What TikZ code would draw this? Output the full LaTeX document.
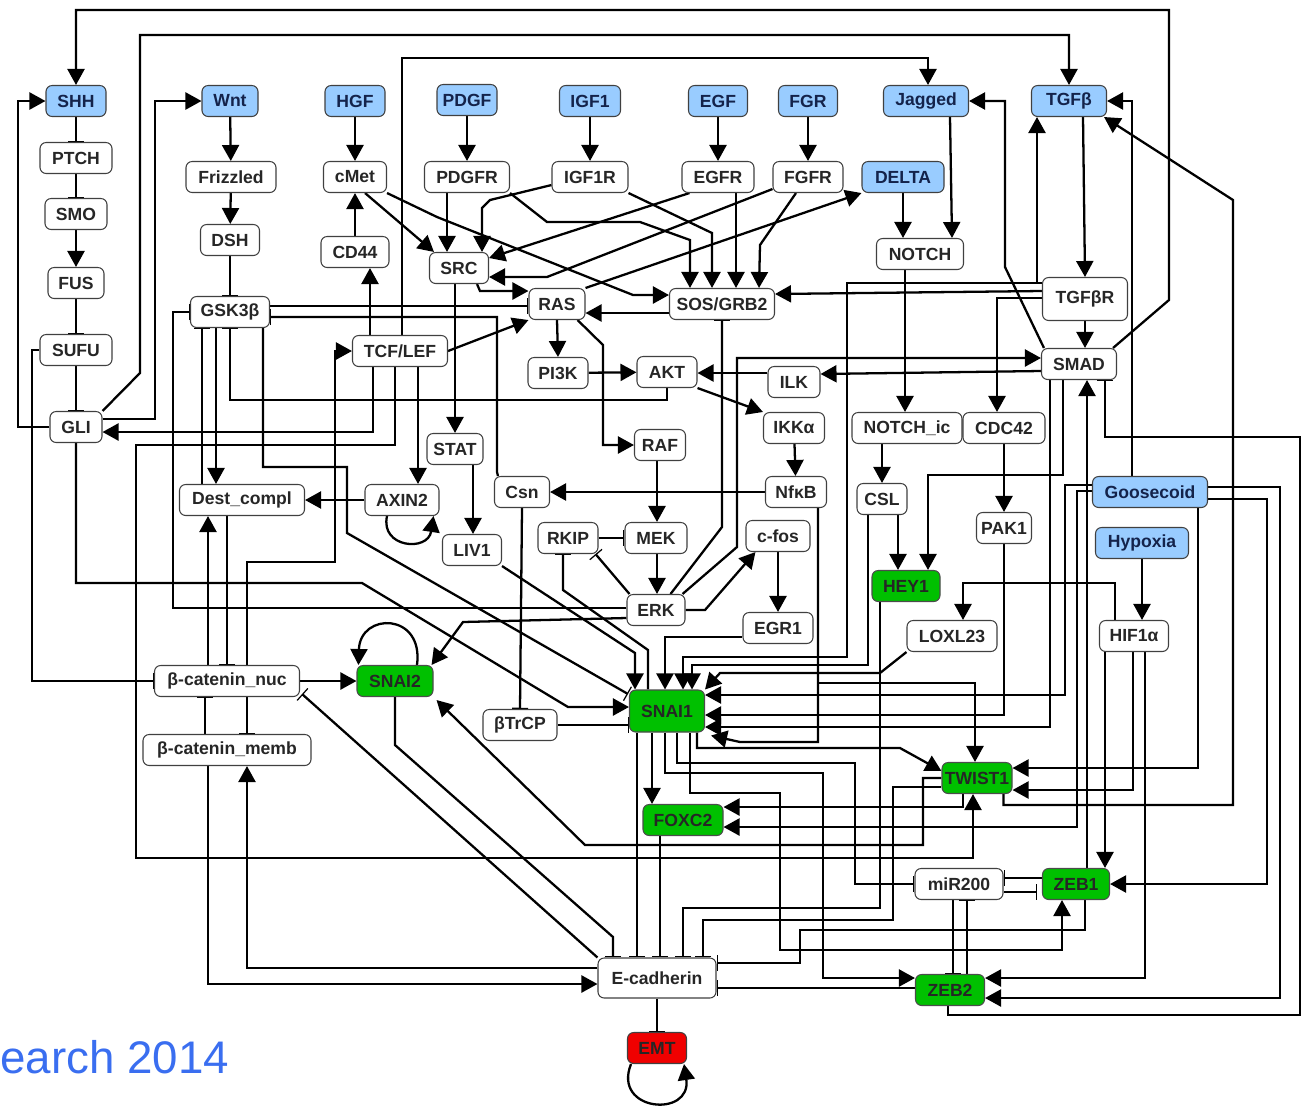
\documentclass[tikz,border=0pt]{standalone}
\usepackage{fontspec}
\setmainfont{Liberation Sans}
\usetikzlibrary{arrows.meta,calc}
\definecolor{nblue}{RGB}{153,204,255}
\definecolor{ngreen}{RGB}{0,192,0}
\definecolor{nred}{RGB}{240,0,0}
\definecolor{ttblue}{RGB}{20,35,75}
\definecolor{capblue}{RGB}{58,110,240}
\pgfdeclarelayer{bg}
\pgfsetlayers{bg,main}
\begin{document}
\begin{tikzpicture}[x=0.02cm,y=-0.02cm,
  box/.style={draw=black!75, line width=0.6pt, rounded corners=3.5pt, fill=white, inner sep=0pt,
    minimum height=0.62cm, font=\fontsize{10}{12}\selectfont\bfseries, text=black!85},
  bl/.style={box, fill=nblue, text=ttblue},
  gr/.style={box, fill=ngreen, text=black!85, draw=black!70},
  rd/.style={box, fill=nred, text=black!85},
  wd/.style={minimum width=#1*0.02cm},
  hh/.style={minimum height=#1*0.02cm},
  act/.style={line width=1.3pt, -{Triangle[length=0.32cm,width=0.34cm]}},
  inh/.style={line width=1.3pt, -{Bar[width=0.32cm,line width=0.7pt]}}]
\useasboundingbox (0,0) rectangle (1308,1113);
% ---------------- nodes
\node[bl,wd=60] (SHH) at (76,101) {SHH};
\node[box,wd=72] (PTCH) at (76,158) {PTCH};
\node[box,wd=62] (SMO) at (76,214) {SMO};
\node[box,wd=56] (FUS) at (76,283) {FUS};
\node[box,wd=72] (SUFU) at (76,350) {SUFU};
\node[box,wd=52] (GLI) at (76,427) {GLI};
\node[bl,wd=56] (Wnt) at (230,101) {Wnt};
\node[box,wd=90] (Frizzled) at (231,177) {Frizzled};
\node[box,wd=59] (DSH) at (230,240) {DSH};
\node[box,wd=79] (GSK) at (230,312) {GSK3β};
\node[bl,wd=60] (HGF) at (355,101) {HGF};
\node[box,wd=63] (cMet) at (355,177) {cMet};
\node[box,wd=68] (CD44) at (355,252) {CD44};
\node[bl,wd=60] (PDGF) at (467,100) {PDGF};
\node[box,wd=85] (PDGFR) at (467,177) {PDGFR};
\node[bl,wd=61] (IGF1) at (590,101) {IGF1};
\node[box,wd=76] (IGF1R) at (590,177) {IGF1R};
\node[bl,wd=59] (EGF) at (718,101) {EGF};
\node[box,wd=72] (EGFR) at (718,177) {EGFR};
\node[bl,wd=59] (FGR) at (808,101) {FGR};
\node[box,wd=70] (FGFR) at (808,177) {FGFR};
\node[bl,wd=85] (Jagged) at (926,101) {Jagged};
\node[bl,wd=82] (DELTA) at (903,177) {DELTA};
\node[box,wd=87] (NOTCH) at (920,254) {NOTCH};
\node[bl,wd=75] (TGFb) at (1069,101) {TGFβ};
\node[box,wd=85,hh=43] (TGFbR) at (1085,299) {TGFβR};
\node[box,wd=75] (SMAD) at (1079,364) {SMAD};
\node[box,wd=59] (SRC) at (459,268) {SRC};
\node[box,wd=56] (RAS) at (557,304) {RAS};
\node[box,wd=105] (SOS) at (722,304) {SOS/GRB2};
\node[box,wd=95] (TCF) at (400,351) {TCF/LEF};
\node[box,wd=60] (PI3K) at (558,373) {PI3K};
\node[box,wd=60] (AKT) at (667,372) {AKT};
\node[box,wd=52] (ILK) at (794,382) {ILK};
\node[box,wd=61] (IKKa) at (794,428) {IKKα};
\node[box,wd=110] (NOTCHic) at (907,428) {NOTCH\_ic};
\node[box,wd=82] (CDC42) at (1004,428) {CDC42};
\node[box,wd=56] (STAT) at (455,449) {STAT};
\node[box,wd=51] (RAF) at (660,445) {RAF};
\node[box,wd=55] (Csn) at (522,492) {Csn};
\node[box,wd=61] (NFkB) at (796,492) {NfκB};
\node[box,wd=50] (CSL) at (882,499) {CSL};
\node[bl,wd=115] (Goosecoid) at (1150,492) {Goosecoid};
\node[box,wd=125] (Dest) at (242,500) {Dest\_compl};
\node[box,wd=74] (AXIN2) at (402,500) {AXIN2};
\node[box,wd=59] (LIV1) at (472,550) {LIV1};
\node[box,wd=60] (RKIP) at (568,538) {RKIP};
\node[box,wd=62] (MEK) at (656,538) {MEK};
\node[box,wd=64] (cfos) at (778,536) {c-fos};
\node[box,wd=55] (PAK1) at (1004,528) {PAK1};
\node[bl,wd=93] (Hypoxia) at (1142,543) {Hypoxia};
\node[gr,wd=68] (HEY1) at (906,586) {HEY1};
\node[box,wd=58] (ERK) at (656,610) {ERK};
\node[box,wd=70] (EGR1) at (778,628) {EGR1};
\node[box,wd=90] (LOXL) at (952,636) {LOXL23};
\node[box,wd=69] (HIF) at (1134,636) {HIF1α};
\node[gr,wd=76] (SNAI2) at (395,681) {SNAI2};
\node[box,wd=145] (bcatnuc) at (227,681) {β-catenin\_nuc};
\node[gr,wd=75,hh=42] (SNAI1) at (667,711) {SNAI1};
\node[box,wd=74] (bTrCP) at (520,725) {βTrCP};
\node[box,wd=168] (bcatmemb) at (227,750) {β-catenin\_memb};
\node[gr,wd=70] (TWIST1) at (977,778) {TWIST1};
\node[gr,wd=80] (FOXC2) at (683,820) {FOXC2};
\node[box,wd=88] (miR200) at (959,884) {miR200};
\node[gr,wd=67] (ZEB1) at (1076,884) {ZEB1};
\node[box,wd=118,hh=40] (Ecad) at (657,978) {E-cadherin};
\node[gr,wd=69] (ZEB2) at (950,990) {ZEB2};
\node[rd,wd=59] (EMT) at (657,1048) {EMT};
\node[anchor=base west, inner sep=0pt, font=\fontsize{26}{30}\selectfont, text=capblue] (cap) at (0,1073) {earch 2014};
% ---------------- edges
\begin{pgfonlayer}{bg}
% long loops at the top
\draw[act] ($(SMAD.north east)+(-4,0)$) -- (1169,300) -- (1169,10) -| (SHH.north);
\draw[act] (GLI.north east) -- (140,373) -- (140,35) -| (TGFb.north);
\draw[act] (TCF.north -| 402,0) |- (928,58) -- (Jagged.north -| 928,0);
% hedgehog
\draw[inh] (SHH) -- (PTCH);
\draw[inh] (PTCH) -- (SMO);
\draw[act] (SMO) -- (FUS);
\draw[inh] (FUS) -- (SUFU);
\draw[inh] (SUFU) -- (GLI);
\draw[act] (GLI.west) -- (18,427) |- (SHH.west);
\draw[act] (GLI.east |- 0,419) -- (155,419) |- (Wnt.west);
\draw[inh] (SUFU.west) -- (32,350) |- (bcatnuc.west);
\draw[act] (GLI.south) |- (362,583) -- (568,707) -- (SNAI1.west |- 0,707);
% wnt
\draw[act] (Wnt) -- (Frizzled);
\draw[act] (Frizzled) -- (DSH);
\draw[inh] (DSH) -- (GSK);
\draw[act] (GSK.south -| 216,0) -- (Dest.north -| 216,0);
\draw[inh] (Dest.north -| 202,0) -- (GSK.south -| 202,0);
\draw[inh] (ERK.west |- 0,608) -- (173,608) |- (GSK.west);
\draw[inh] (GSK.south -| 263,0) |- (347,467) -- (347,533) -- (628,694);
\draw[inh] (GSK.east |- 0,306) -- (RAS.west |- 0,306);
\draw[inh] ($(Csn.north west)+(4,0)$) -- (497,472) -- (497,317) -- (GSK.east |- 0,317);
\draw[inh] (AKT.south) |- (230,400) -- (GSK.south);
\draw[inh] (Dest.south -| 227,0) -- (bcatnuc.north -| 227,0);
\draw[act] (bcatnuc.north -| 208,0) -- (Dest.south -| 208,0);
\draw[act] (bcatnuc.north -| 247,0) |- (335,562) |- (TCF.west);
\draw[act] (AXIN2.west) -- (Dest.east);
\draw[act] ($(AXIN2.south)+(-15,0)$) .. controls (380,548) and (428,552) .. ($(AXIN2.south east)+(-6,0)$);
\draw[act] (bcatnuc.east) -- (SNAI2.west);
\draw[inh] (bcatmemb.north -| 205,0) -- (bcatnuc.south -| 205,0);
\draw[inh] (bcatnuc.south -| 247,0) -- (bcatmemb.north -| 247,0);
\draw[act] (bcatmemb.south -| 208,0) |- (Ecad.west |- 0,984);
\draw[act] (Ecad.west |- 0,968) -| (bcatmemb.south -| 247,0);
\draw[inh] (Ecad.north west) -- ($(bcatnuc.south east)+(2,-3)$);
% TCF/LEF
\draw[act] (TCF.north -| 370,0) -- (CD44.south -| 370,0);
\draw[act] (CD44) -- (cMet);
\draw[act] (TCF.south -| 373,0) |- (GLI.east |- 0,432);
\draw[act] (TCF.south -| 395,0) |- (136,445) |- (973,858) -- (TWIST1.south -| 973,0);
\draw[act] (TCF.south -| 418,0) -- (AXIN2.north -| 418,0);
\draw[act] (TCF.east) -- (RAS.south west);
% growth factors
\draw[act] (HGF) -- (cMet);
\draw[act] (PDGF) -- (PDGFR);
\draw[act] (IGF1) -- (IGF1R);
\draw[act] (EGF) -- (EGFR);
\draw[act] (FGR) -- (FGFR);
\draw[act] ($(cMet.south)+(10,0)$) -- ($(SRC.north west)+(5,0)$);
\draw[act] (cMet.south east) -- (437,217) -- (633,295) -- (SOS.west |- 0,295);
\draw[act] (PDGFR.south -| 447,0) -- (SRC.north -| 447,0);
\draw[act] (PDGFR.south east) -- (547,222) -- (640,222) -- (690,240) -- (SOS.north -| 690,0);
\draw[act] ($(IGF1R.south west)+(0,-8)$) -- (490,200) -- (482,208) -- (SRC.north -| 482,0);
\draw[act] (IGF1R.south east) -- (712,233) -- (SOS.north -| 712,0);
\draw[act] ($(EGFR.south west)+(8,0)$) -- ($(SRC.east)+(0,-10)$);
\draw[act] (EGFR.south -| 736,0) -- (SOS.north -| 736,0);
\draw[act] ($(FGFR.south west)+(0,-4)$) -- (547,277) -- (SRC.east |- 0,277);
\draw[act] ($(FGFR.south)+(-12,0)$) -- (760,245) -- (SOS.north -| 759,0);
\draw[act] (RAS.north east) -- (DELTA.south west);
\draw[act] (SRC.south -| 477,0) -- (480,291) -- (RAS.west |- 0,291);
\draw[act] (SOS.west |- 0,313) -- (RAS.east |- 0,313);
\draw[act] (RAS.south) -- (PI3K.north);
\draw[act] ($(RAS.south east)+(-8,0)$) -- (603,345) |- (RAF.west);
\draw[act] (PI3K) -- (AKT);
\draw[act] (AKT.south east) -- (IKKa.north west);
\draw[act] (ILK.west |- 0,373) -- (AKT.east |- 0,373);
\draw[act] (SMAD.west |- 0,371) -- (ILK.east |- 0,374);
\draw[act] ($(ERK.north east)+(-3,0)$) -- (737,547) -- (737,358) -- (SMAD.west |- 0,358);
\draw[inh] ($(ERK.north east)+(-15,0)$) -- (722,527) -- (SOS.south -| 722,0);
\draw[act] (IKKa) -- (NFkB);
\draw[act] (NFkB.west) -- (Csn.east);
\draw[act] (NFkB.south -| 818,0) |- (975,683) -- (TWIST1.north -| 975,0);
\draw[act] (NFkB.south -| 818,0) -- (818,742) -- (740,742) -- ($(SNAI1.south east)+(6,3)$);
\draw[act] (SRC.south -| 455,0) -- (STAT.north -| 455,0);
\draw[act] (STAT.south -| 473,0) -- (LIV1.north -| 473,0);
% MAPK
\draw[act] (RAF.south -| 657,0) -- (MEK.north -| 657,0);
\draw[act] (MEK.south -| 657,0) -- (ERK.north -| 657,0);
\draw[inh] (RKIP) -- (MEK);
\draw[inh] ($(ERK.north west)+(3,0)$) -- ($(RKIP.south east)+(-3,0)$);
\draw[inh] (SNAI1.north -| 648,0) -- (648,650) -- (563,590) -- (RKIP.south -| 563,0);
\draw[act] (ERK.east) -- (705,610) -- ($(cfos.south west)+(10,0)$);
\draw[act] (cfos) -- (EGR1);
\draw[act] (EGR1.west |- 0,637) -| (SNAI1.north -| 665,0);
\draw[act] (ERK.west |- 0,618) -- (463,622) -- ($(SNAI2.north east)+(-2,0)$);
\draw[act] (LIV1.south east) -- (635,653) -- (SNAI1.north -| 635,0);
\draw[inh] (bTrCP.east) -- (SNAI1.west |- 0,725);
\draw[inh] (Csn.south) -- (bTrCP.north);
% SNAI2
\draw[act] ($(SNAI2.north)+(22,0)$) .. controls (424,612) and (360,612) .. ($(SNAI2.north west)+(2,0)$);
\draw[inh] (SNAI2.south) -- (395,745) -- (613,937) -- (Ecad.north -| 613,0);
\draw[act] (TWIST1.west) -- (923,778) |- (585,845) -- ($(SNAI2.south east)+(3,3)$);
% notch
\draw[act] ($(Jagged.south)+(24,0)$) -- (NOTCH.north -| 952,0);
\draw[act] (DELTA.south) -- (NOTCH.north -| 903,0);
\draw[act] (NOTCH.south -| 905,0) -- (NOTCHic.north -| 905,0);
\draw[act] (NOTCHic.south -| 882,0) -- (CSL.north);
\draw[act] (CSL.south -| 898,0) -- (HEY1.north -| 898,0);
\draw[act] (CSL.south -| 868,0) |- (692,665) -- (SNAI1.north -| 692,0);
\draw[inh] (HEY1.south -| 880,0) |- (683,908) -- (Ecad.north -| 683,0);
% TGF beta
\draw[act] (TGFb.south -| 1083,0) -- (TGFbR.north -| 1085,0);
\draw[act] (TGFbR.south -| 1085,0) -- (SMAD.north -| 1085,0);
\draw[act] (TGFbR.west |- 0,283) -- (1037,283) -- (TGFb.south -| 1037,0);
\draw[act] (TGFbR.west |- 0,283) -- (847,283) |- (683,657) -- (SNAI1.north -| 683,0);
\draw[act] (TGFbR.west |- 0,291) -- (SOS.east |- 0,294);
\draw[act] (TGFbR.west |- 0,298) -| (CDC42.north -| 997,0);
\draw[act] ($(SMAD.north west)+(3,0)$) -- (1005,267) |- (Jagged.east);
\draw[act] (Goosecoid.north -| 1132,0) |- (TGFb.east);
\draw[act] ($(TWIST1.south east)+(-9,0)$) |- (1233,805) -- (1233,200) -- ($(TGFb.south east)+(-3,0)$);
\draw[inh] (ZEB2.south -| 948,0) |- (1300,1015) |- (1105,437) -- (SMAD.south -| 1105,0);
\draw[act] (SMAD.south -| 1063,0) |- (928,475) -- (HEY1.north -| 928,0);
\draw[act] (SMAD.south -| 1050,0) |- (SNAI1.east |- 0,727);
\draw[act] (ZEB1.north -| 1087,0) -- (SMAD.south -| 1087,0);
\draw[act] (CDC42) -- (PAK1);
\draw[act] (PAK1.south) |- (SNAI1.east |- 0,715);
\draw[act] (LOXL.south west) -- (880,673) -- (720,673) -- (SNAI1.north east);
% hypoxia, goosecoid
\draw[act] (Hypoxia.south -| 1142,0) -- (HIF.north -| 1142,0);
\draw[act] (HIF.north -| 1115,0) |- (963,583) -- (LOXL.north -| 963,0);
\draw[act] (HIF.south -| 1105,0) -- (ZEB1.north -| 1105,0);
\draw[act] (HIF.south -| 1133,0) |- (TWIST1.east |- 0,790);
\draw[act] (HIF.south -| 1145,0) |- (ZEB2.east |- 0,978);
\draw[act] (Goosecoid.east |- 0,487) -| (1280,998) -- (ZEB2.east |- 0,998);
\draw[act] (Goosecoid.east |- 0,499) -| (1267,884) -- (ZEB1.east);
\draw[act] (Goosecoid.south -| 1198,0) |- (TWIST1.east |- 0,768);
\draw[act] (Goosecoid.west |- 0,485) -| (1065,695) -- (SNAI1.east |- 0,695);
\draw[act] (Goosecoid.west |- 0,491) -| (1077,827) -- (FOXC2.east |- 0,827);
% SNAI1 outputs
\draw[act] (SNAI1.south -| 652,0) -- (FOXC2.north -| 652,0);
\draw[inh] (SNAI1.south -| 637,0) -- (Ecad.north -| 637,0);
\draw[inh] (FOXC2.south -| 660,0) -- (Ecad.north -| 660,0);
\draw[act] (SNAI1.south -| 665,0) |- (823,773) |- (ZEB2.west |- 0,978);
\draw[act] (SNAI1.south -| 690,0) |- (780,793) |- (1062,950) -- (ZEB1.south -| 1062,0);
\draw[inh] (SNAI1.south -| 677,0) |- (855,763) |- (miR200.west);
\draw[act] (SNAI1.south -| 697,0) |- (900,748) -- ($(TWIST1.west)+(0,-7)$);
\draw[act] (TWIST1.south -| 963,0) |- (FOXC2.east |- 0,807);
\draw[inh] ($(TWIST1.west)+(0,9)$) -- (893,787) |- (703,920) -- (Ecad.north -| 703,0);
\draw[inh] (ZEB1.south -| 1085,0) |- (800,930) |- (Ecad.east |- 0,963);
\draw[inh] (ZEB2.west |- 0,988) -- (Ecad.east |- 0,988);
\draw[inh] (miR200.south -| 953,0) -- (ZEB2.north -| 953,0);
\draw[inh] (ZEB2.north -| 967,0) -- (miR200.south -| 967,0);
\draw[inh] (ZEB1.west |- 0,878) -- (miR200.east |- 0,878);
\draw[inh] (miR200.east |- 0,892) -- (1037,892);
\draw[inh] (Ecad) -- (EMT);
\draw[act] ($(EMT.south west)+(4,0)$) .. controls (612,1112) and (692,1118) .. ($(EMT.south east)+(-3,0)$);
\end{pgfonlayer}
\end{tikzpicture}
\end{document}
